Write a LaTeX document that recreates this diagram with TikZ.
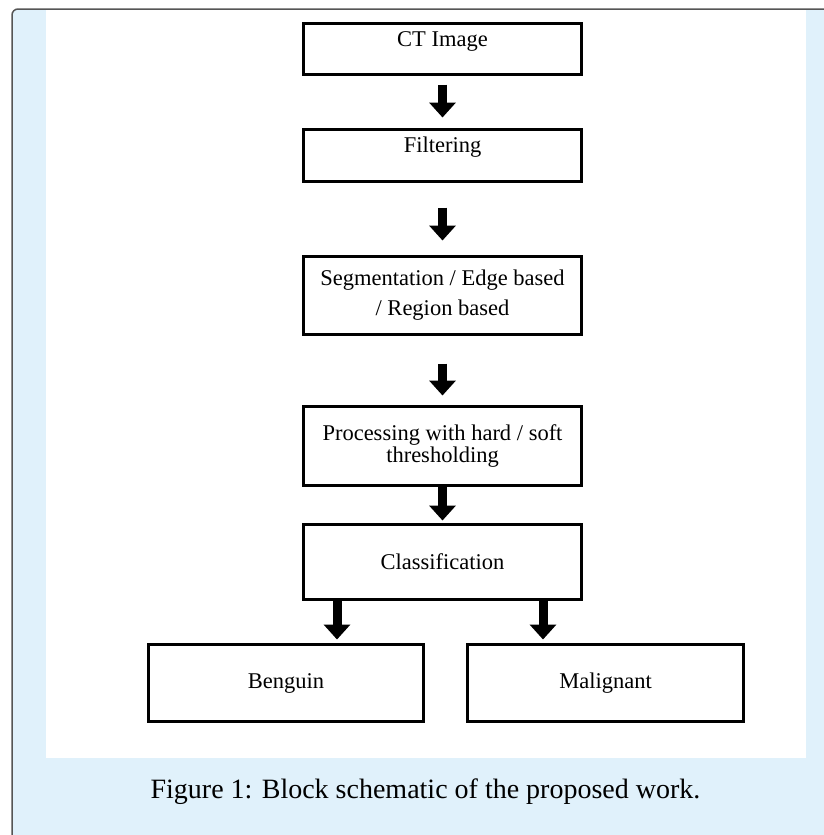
\documentclass[tikz,border=0pt]{standalone}
\usepackage{fontspec}
\setmainfont{Liberation Serif}
\usetikzlibrary{arrows.meta, positioning, calc}
\definecolor{panelblue}{HTML}{E0F1FB}
\definecolor{framegray}{HTML}{555555}

\begin{document}
\begin{tikzpicture}[x=1pt, y=1pt,
        block/.style={rectangle, draw=black, line width=3pt, fill=white, minimum width=278pt, align=center, inner sep=2pt, font=\fontsize{22.5}{30}\selectfont},
        raised/.style={text height=15pt, text depth=21pt},
        flow/.style={line width=9pt, -{Triangle[width=26pt, length=15pt]}},
        caption/.style={anchor=base, font=\fontsize{28}{32}\selectfont}
    ]
        \useasboundingbox (0,0) rectangle (824,-835);

        % ----------------------------------------------------
        % PANEL (blue frame, white figure area)
        % ----------------------------------------------------
        \fill[panelblue] (12,-835) [rounded corners=6pt] -- (12,-9) [sharp corners] -- (824,-9) -- (824,-835) -- cycle;
        \draw[framegray, line width=1.5pt] (12,-835) [rounded corners=6pt] -- (12,-9) [sharp corners] -- (824,-9);
        \fill[white] (46,-10) rectangle (806,-758);

        % ----------------------------------------------------
        % PROCESSING CHAIN (Center Column)
        % ----------------------------------------------------
        \node[block, raised, minimum height=51pt] (ct) at (442.5,-49) {CT Image};
        \node[block, raised, minimum height=52pt] (filt) at (442.5,-155.5) {Filtering};
        \node[block, minimum height=78pt] (seg) at (442.5,-295.5) {Segmentation / Edge based\\/ Region based};
        \node[block, minimum height=79pt, font=\fontsize{22.5}{22}\selectfont] (proc) at (442.5,-446) {Processing with hard / soft\\thresholding};
        \node[block, minimum height=75pt] (cls) at (442.5,-562) {Classification};

        % ----------------------------------------------------
        % OUTCOMES (Bottom Row)
        % ----------------------------------------------------
        \node[block, minimum width=275pt, minimum height=77pt] (ben) at (286,-683) {Benguin};
        \node[block, minimum width=276pt, minimum height=77pt] (mal) at (605.5,-683) {Malignant};

        \node[caption] (cap) at (425.5,-798) {Figure 1: Block schematic of the proposed work.};

        % ----------------------------------------------------
        % CONNECTIONS
        % ----------------------------------------------------
        \draw[flow, shorten <=8.5pt, shorten >=10.5pt] (ct) -- (filt);
        \draw[flow, shorten <=24.5pt, shorten >=14.5pt] (filt) -- (seg);
        \draw[flow, shorten <=27.5pt, shorten >=9.5pt] (seg) -- (proc);
        \draw[flow, shorten >=2.5pt] (proc) -- (cls);

        % Split to the two classes
        \coordinate (toben) at ($(cls.south)+(-105.5,0)$);
        \coordinate (tomal) at ($(cls.south)+(100.5,0)$);
        \draw[flow, shorten >=3.5pt] (toben) -- (toben |- ben.north);
        \draw[flow, shorten >=3.5pt] (tomal) -- (tomal |- mal.north);

    \end{tikzpicture}
\end{document}
